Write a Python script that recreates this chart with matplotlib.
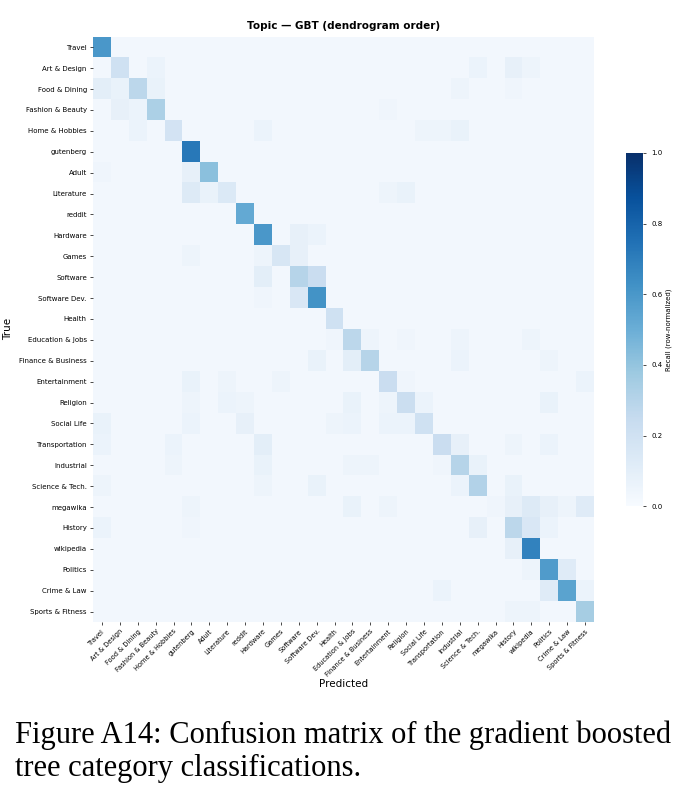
import matplotlib
matplotlib.use("Agg")
import matplotlib.pyplot as plt
import numpy as np

labels = ["Travel", "Art & Design", "Food & Dining", "Fashion & Beauty", "Home & Hobbies",
          "gutenberg", "Adult", "Literature", "reddit", "Hardware", "Games", "Software",
          "Software Dev.", "Health", "Education & Jobs", "Finance & Business", "Entertainment",
          "Religion", "Social Life", "Transportation", "Industrial", "Science & Tech.",
          "megawika", "History", "wikipedia", "Politics", "Crime & Law", "Sports & Fitness"]

# recall on the diagonal (row-normalized)
diag = [0.60, 0.20, 0.28, 0.33, 0.18, 0.72, 0.42, 0.14, 0.52, 0.60, 0.16, 0.30,
        0.62, 0.20, 0.28, 0.30, 0.23, 0.22, 0.20, 0.23, 0.30, 0.31, 0.04, 0.28,
        0.68, 0.58, 0.55, 0.35]

background = 0.025

# notable off-diagonal confusions: (true, predicted, recall)
off_diag = [
    (1, 3, 0.06), (1, 21, 0.06), (1, 23, 0.08), (1, 24, 0.05),
    (2, 0, 0.10), (2, 1, 0.07), (2, 3, 0.07), (2, 20, 0.05), (2, 23, 0.04),
    (3, 1, 0.08), (3, 2, 0.06), (3, 16, 0.04),
    (4, 2, 0.06), (4, 9, 0.06), (4, 18, 0.05), (4, 19, 0.05), (4, 20, 0.07),
    (6, 5, 0.08), (6, 0, 0.04),
    (7, 5, 0.13), (7, 6, 0.07), (7, 17, 0.07), (7, 16, 0.05),
    (9, 11, 0.08), (9, 12, 0.06),
    (10, 5, 0.05), (10, 9, 0.05), (10, 11, 0.08),
    (11, 9, 0.10), (11, 12, 0.23),
    (12, 11, 0.15), (12, 9, 0.04),
    (14, 13, 0.04), (14, 15, 0.05), (14, 17, 0.04), (14, 20, 0.05), (14, 24, 0.05),
    (15, 12, 0.07), (15, 14, 0.10), (15, 20, 0.06), (15, 25, 0.05),
    (16, 5, 0.07), (16, 7, 0.05), (16, 10, 0.05), (16, 17, 0.04), (16, 27, 0.06),
    (17, 5, 0.05), (17, 7, 0.06), (17, 8, 0.05), (17, 14, 0.07), (17, 16, 0.05),
    (17, 18, 0.06), (17, 25, 0.07),
    (18, 0, 0.07), (18, 5, 0.06), (18, 8, 0.08), (18, 13, 0.05), (18, 14, 0.06),
    (18, 16, 0.06), (18, 17, 0.06),
    (19, 0, 0.06), (19, 4, 0.06), (19, 9, 0.10), (19, 20, 0.08), (19, 23, 0.05), (19, 25, 0.06),
    (20, 4, 0.05), (20, 9, 0.07), (20, 14, 0.05), (20, 15, 0.05), (20, 19, 0.04), (20, 21, 0.07),
    (21, 0, 0.05), (21, 9, 0.05), (21, 12, 0.07), (21, 20, 0.06), (21, 23, 0.07),
    (22, 5, 0.05), (22, 14, 0.07), (22, 16, 0.05), (22, 23, 0.08), (22, 24, 0.13),
    (22, 25, 0.08), (22, 26, 0.05), (22, 27, 0.12),
    (23, 0, 0.06), (23, 5, 0.04), (23, 21, 0.08), (23, 24, 0.15), (23, 25, 0.06),
    (24, 23, 0.08),
    (25, 26, 0.12), (25, 24, 0.05),
    (26, 19, 0.06), (26, 25, 0.12), (26, 27, 0.06),
    (27, 23, 0.05), (27, 24, 0.05),
]

n = len(labels)
cm = np.full((n, n), background)
for i, v in enumerate(diag):
    cm[i, i] = v
for r, c, v in off_diag:
    cm[r, c] = v

fig = plt.figure(figsize=(6.89, 8.01), dpi=100)
ax = fig.add_axes([0.135, 0.2235, 0.727, 0.7305])
cax = fig.add_axes([0.9085, 0.368, 0.025, 0.441])

im = ax.imshow(cm, cmap="Blues", vmin=0, vmax=1, aspect="auto", interpolation="nearest")
for s in ax.spines.values():
    s.set_visible(False)

ax.set_xticks(np.arange(n))
ax.set_yticks(np.arange(n))
ax.set_xticklabels(labels, rotation=45, ha="right", rotation_mode="anchor", fontsize=4.8)
ax.set_yticklabels(labels, fontsize=5)
ax.tick_params(length=2.5, width=0.5, pad=2)
ax.set_xlabel("Predicted", fontsize=7.5, labelpad=1)
ax.set_ylabel("True", fontsize=7.5)
ax.set_title("Topic \u2014 GBT (dendrogram order)", fontsize=7.5, fontweight="bold", pad=6)

cb = fig.colorbar(im, cax=cax)
cb.outline.set_visible(False)
cb.set_ticks([0, 0.2, 0.4, 0.6, 0.8, 1.0])
cb.ax.tick_params(labelsize=5, length=2.5, width=0.5)
cb.set_label("Recall (row-normalized)", fontsize=5, labelpad=2)

caption = "Figure A14: Confusion matrix of the gradient boosted\ntree category classifications."
fig.text(0.022, 0.022, caption, fontsize=22, family="Liberation Serif",
         ha="left", va="bottom", linespacing=1.2)

fig.savefig("out.png", dpi=100)
